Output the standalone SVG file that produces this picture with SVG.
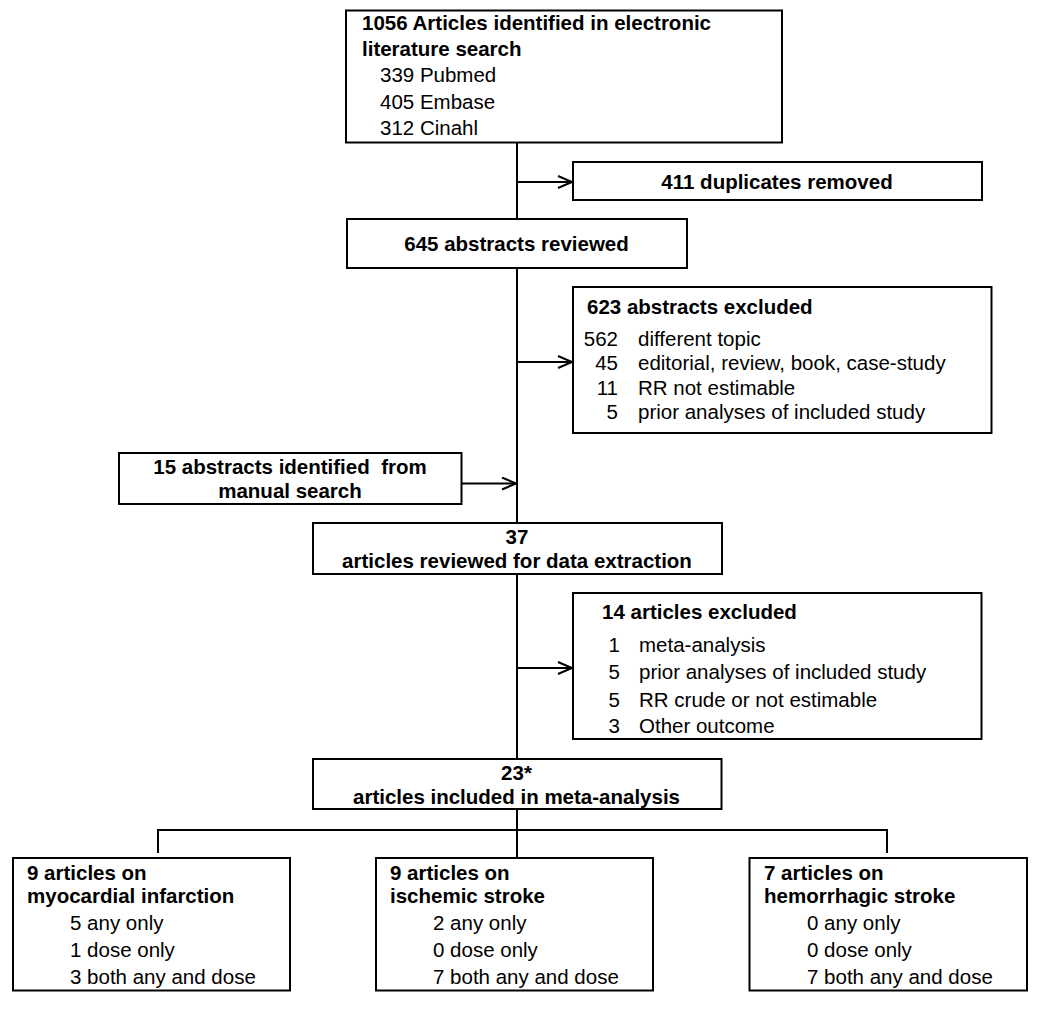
<svg xmlns="http://www.w3.org/2000/svg" width="1050" height="1009" viewBox="0 0 1050 1009">
<style>
.box{fill:#fff;stroke:#000;stroke-width:2}
.ln{fill:none;stroke:#000;stroke-width:2}
text{font-family:"Liberation Sans",Arial,sans-serif;font-size:20.5px;fill:#000}
.b{font-weight:bold}
.c{text-anchor:middle}
.e{text-anchor:end}
</style>
<defs>
<marker id="ah" markerUnits="userSpaceOnUse" markerWidth="18" markerHeight="16" refX="15" refY="7" orient="auto">
<path d="M1,1 L15,7 L1,13" fill="none" stroke="#000" stroke-width="2"/>
</marker>
</defs>
<rect width="1050" height="1009" fill="#fff"/>
<g id="connectors">
<path class="ln" d="M517,143 V219"/>
<path class="ln" d="M517,268 V523"/>
<path class="ln" d="M517,574 V759"/>
<path class="ln" d="M517,809 V858"/>
<path class="ln" d="M158,853 V830 H887 V853"/>
<path class="ln" d="M517,182 H572" marker-end="url(#ah)"/>
<path class="ln" d="M517,362 H572" marker-end="url(#ah)"/>
<path class="ln" d="M462,483.5 H516" marker-end="url(#ah)"/>
<path class="ln" d="M517,668 H572" marker-end="url(#ah)"/>
</g>
<g id="n-search">
<rect class="box" x="346" y="10.5" width="436" height="132"/>
<text class="b" x="362" y="29.5">1056 Articles identified in electronic</text>
<text class="b" x="362" y="55.5">literature search</text>
<text x="380" y="82">339 Pubmed</text>
<text x="380" y="108.5">405 Embase</text>
<text x="380" y="135">312 Cinahl</text>
</g>
<g id="n-duplicates">
<rect class="box" x="573" y="162" width="409" height="38"/>
<text class="b c" x="777" y="188.5">411 duplicates removed</text>
</g>
<g id="n-abstracts">
<rect class="box" x="347" y="219" width="340" height="49"/>
<text class="b c" x="516.5" y="251">645 abstracts reviewed</text>
</g>
<g id="n-abs-excluded">
<rect class="box" x="573" y="287" width="418.5" height="146"/>
<text class="b" x="587" y="314">623 abstracts excluded</text>
<text class="e" x="618" y="345.5">562</text><text x="638" y="345.5">different topic</text>
<text class="e" x="618" y="370">45</text><text x="638" y="370">editorial, review, book, case-study</text>
<text class="e" x="618" y="394.5">11</text><text x="638" y="394.5">RR not estimable</text>
<text class="e" x="618" y="419">5</text><text x="638" y="419">prior analyses of included study</text>
</g>
<g id="n-manual">
<rect class="box" x="119" y="453" width="342.5" height="51"/>
<text class="b c" x="290" y="473.5">15 abstracts identified&#160; from</text>
<text class="b c" x="290" y="498">manual search</text>
</g>
<g id="n-reviewed">
<rect class="box" x="313" y="523" width="409" height="51"/>
<text class="b c" x="517" y="543.5">37</text>
<text class="b c" x="517" y="568">articles reviewed for data extraction</text>
</g>
<g id="n-art-excluded">
<rect class="box" x="573" y="593" width="408.5" height="146"/>
<text class="b" x="602" y="619">14 articles excluded</text>
<text class="e" x="620" y="652">1</text><text x="639" y="652">meta-analysis</text>
<text class="e" x="620" y="679">5</text><text x="639" y="679">prior analyses of included study</text>
<text class="e" x="620" y="706.5">5</text><text x="639" y="706.5">RR crude or not estimable</text>
<text class="e" x="620" y="733">3</text><text x="639" y="733">Other outcome</text>
</g>
<g id="n-included">
<rect class="box" x="313" y="759" width="408.5" height="50"/>
<text class="b c" x="516.5" y="779.5">23*</text>
<text class="b c" x="516.5" y="803.5">articles included in meta-analysis</text>
</g>
<g id="n-mi">
<rect class="box" x="13" y="858" width="277" height="132.5"/>
<text class="b" x="27" y="879.5">9 articles on</text>
<text class="b" x="27" y="903">myocardial infarction</text>
<text x="70" y="930">5 any only</text>
<text x="70" y="957">1 dose only</text>
<text x="70" y="984">3 both any and dose</text>
</g>
<g id="n-is">
<rect class="box" x="376" y="858" width="277" height="132.5"/>
<text class="b" x="390" y="879.5">9 articles on</text>
<text class="b" x="390" y="903">ischemic stroke</text>
<text x="433" y="930">2 any only</text>
<text x="433" y="957">0 dose only</text>
<text x="433" y="984">7 both any and dose</text>
</g>
<g id="n-hs">
<rect class="box" x="749.5" y="858" width="277.5" height="132.5"/>
<text class="b" x="764" y="879.5">7 articles on</text>
<text class="b" x="764" y="903">hemorrhagic stroke</text>
<text x="807" y="930">0 any only</text>
<text x="807" y="957">0 dose only</text>
<text x="807" y="984">7 both any and dose</text>
</g>
</svg>
